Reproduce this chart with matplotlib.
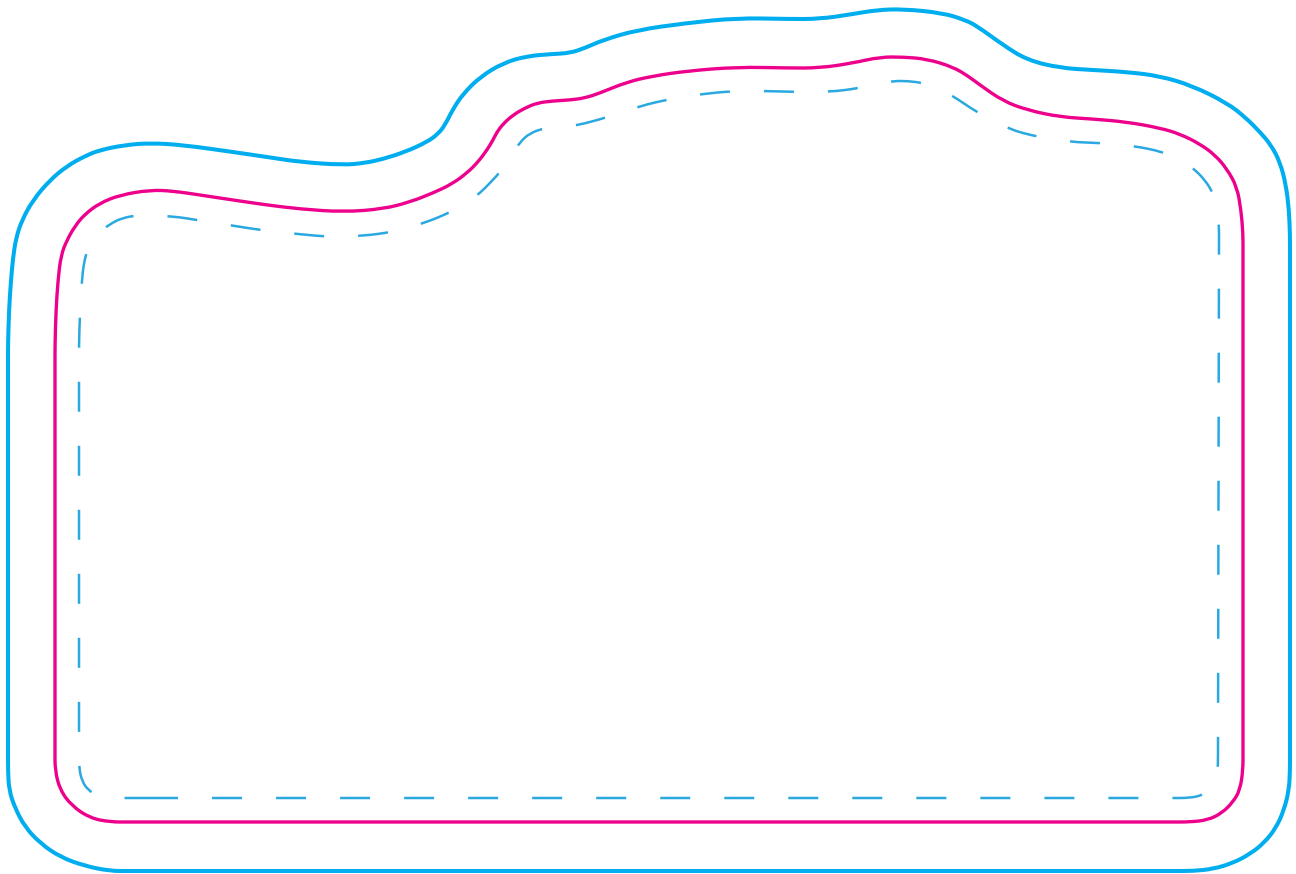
import matplotlib
matplotlib.use("Agg")
import matplotlib.pyplot as plt
from matplotlib.path import Path
from matplotlib.patches import PathPatch

# Outline traces (pixel coordinates of the die-line drawing), closed loops
outer_x = [130, 110, 85, 60, 40, 25, 15, 9, 8, 8, 8, 8, 9, 11, 13, 16, 22, 33, 50, 67, 85, 100, 125, 150, 183, 233, 267, 300, 343, 365, 383, 405, 427, 438, 445, 453, 463, 480, 503, 527, 553, 570, 585, 603, 637, 687, 737, 787, 820, 853, 877, 903, 943, 965, 977, 1003, 1027, 1060, 1093, 1127, 1160, 1193, 1227, 1245, 1260, 1271, 1280, 1286, 1289, 1290, 1290, 1290, 1290, 1289, 1284, 1276, 1264, 1250, 1233, 1213, 1193, 1173]
outer_y = [871, 871, 866, 857, 843, 827, 808, 790, 770, 750, 360, 345, 310, 280, 258, 238, 220, 200, 180, 166, 156, 150, 145, 143, 145, 152, 157, 162, 165, 163, 159, 152, 142, 134, 125, 109, 94, 77, 63, 56, 54, 53, 48, 40, 30, 23, 18, 19, 19, 14, 10, 9, 13, 20, 26, 45, 60, 68, 70, 72, 76, 86, 103, 117, 132, 145, 162, 185, 210, 235, 255, 750, 770, 790, 810, 828, 843, 854, 863, 869, 871, 871]

middle_x = [130, 110, 90, 72, 60, 55, 55, 55, 55, 56, 58, 61, 67, 75, 85, 100, 120, 150, 173, 200, 233, 267, 300, 343, 383, 410, 433, 452, 467, 478, 487, 493, 497, 503, 513, 525, 537, 552, 570, 585, 600, 627, 653, 687, 737, 787, 820, 853, 880, 903, 927, 953, 968, 980, 1003, 1027, 1060, 1093, 1127, 1160, 1180, 1200, 1215, 1227, 1237, 1241, 1243, 1243, 1243, 1243, 1240, 1233, 1222, 1208, 1190, 1170]
middle_y = [822, 822, 818, 806, 790, 770, 750, 365, 345, 310, 280, 255, 240, 226, 214, 203, 195, 190, 191, 195, 200, 205, 209, 212, 209, 202, 193, 184, 173, 162, 150, 140, 132, 124, 115, 108, 103, 101, 100, 98, 93, 82, 76, 71, 67, 68, 68, 63, 57, 57, 59, 67, 76, 85, 101, 110, 117, 119, 122, 128, 134, 144, 155, 169, 187, 210, 233, 253, 750, 770, 790, 802, 813, 820, 822, 822]

inner_x = [178, 1170, 1190, 1203, 1212, 1217, 1218, 1218, 1219, 1219, 1217, 1213, 1205, 1193, 1180, 1163, 1135, 1102, 1070, 1038, 1008, 978, 953, 938, 923, 908, 893, 877, 860, 830, 797, 767, 733, 702, 670, 640, 608, 590, 578, 560, 545, 530, 520, 512, 502, 490, 480, 467, 453, 425, 393, 362, 330, 298, 267, 235, 203, 172, 139, 122, 110, 97, 88, 84, 82, 80, 79, 79, 79, 79, 82, 88, 98, 110, 118]
inner_y = [798, 798, 798, 795, 788, 778, 765, 745, 245, 225, 207, 193, 180, 168, 159, 152, 146, 143, 142, 137, 129, 113, 96, 88, 83, 81, 81, 84, 88, 92, 92, 91, 91, 94, 99, 106, 117, 122, 125, 127, 128, 133, 142, 155, 170, 183, 193, 203, 211, 223, 232, 236, 237, 234, 231, 226, 221, 216, 215, 218, 224, 234, 248, 262, 279, 312, 343, 363, 748, 768, 781, 790, 796, 798, 798]


def smooth_loop(xs, ys):
    """Closed quadratic B-spline path: traced points act as control points."""
    pts = list(zip(xs, ys))
    n = len(pts)

    def mid(a, b):
        return ((a[0] + b[0]) / 2, (a[1] + b[1]) / 2)

    start = mid(pts[-1], pts[0])
    verts = [start]
    codes = [Path.MOVETO]
    for i in range(n):
        verts += [pts[i], mid(pts[i], pts[(i + 1) % n])]
        codes += [Path.CURVE3, Path.CURVE3]
    verts.append(start)
    codes.append(Path.CLOSEPOLY)
    return Path(verts, codes)


W, H = 1296, 874
plt.rcParams['lines.scale_dashes'] = False
fig = plt.figure(figsize=(W / 100, H / 100), dpi=100)
ax = fig.add_axes([0, 0, 1, 1])
ax.set_xlim(0, W)
ax.set_ylim(H, 0)
ax.axis('off')

ax.add_patch(PathPatch(smooth_loop(outer_x, outer_y), fill=False, edgecolor='#00AEEF',
                       lw=2.9, joinstyle='round', capstyle='round'))
ax.add_patch(PathPatch(smooth_loop(middle_x, middle_y), fill=False, edgecolor='#EC008C',
                       lw=2.4, joinstyle='round', capstyle='round'))
ax.add_patch(PathPatch(smooth_loop(inner_x, inner_y), fill=False, edgecolor='#29A9E0',
                       lw=1.8, linestyle=(0, (21.6, 24.5)), capstyle='butt'))

fig.savefig('out.png', dpi=100, facecolor='white')
